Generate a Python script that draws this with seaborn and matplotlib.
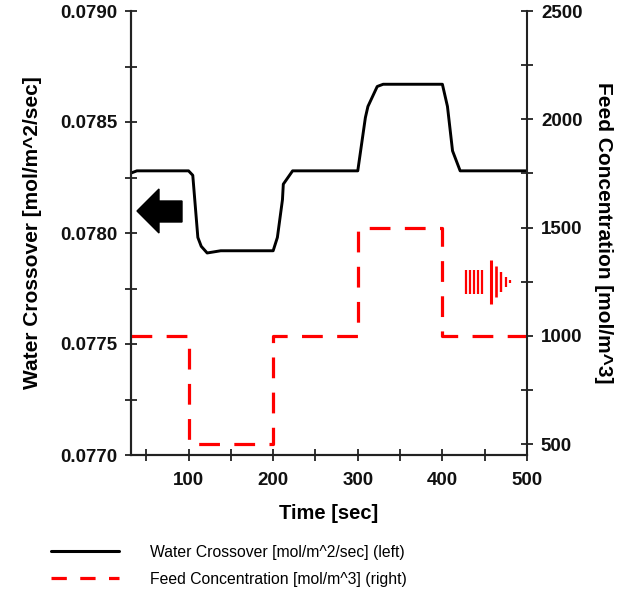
import numpy as np
import pandas as pd
import seaborn as sns
import matplotlib
matplotlib.use("Agg")
import matplotlib.pyplot as plt
from matplotlib.patches import Polygon
from matplotlib.lines import Line2D
from matplotlib.ticker import MultipleLocator, FormatStrFormatter

# ---- data ----
water_time = [32, 39, 100, 105, 111, 115, 122, 138, 200, 205, 211, 212, 223, 300,
              309, 312, 323, 330, 400, 406, 412, 421, 425, 500]
water_flux = [0.07827, 0.07828, 0.07828, 0.07826, 0.07798, 0.07794, 0.07791, 0.07792,
              0.07792, 0.07798, 0.07815, 0.07822, 0.07828, 0.07828,
              0.07852, 0.07857, 0.07866, 0.07867, 0.07867, 0.07857, 0.07837,
              0.07828, 0.07828, 0.07828]

feed_time = [32, 100, 200, 300, 400, 500]
feed_conc = [1000, 500, 1000, 1500, 1000, 1000]

x_ticks = [100, 200, 300, 400, 500]
left_label = "Water Crossover [mol/m^2/sec]"
right_label = "Feed Concentration [mol/m^3]"
x_label = "Time [sec]"
legend_labels = ["Water Crossover [mol/m^2/sec] (left)",
                 "Feed Concentration [mol/m^3] (right)"]

sns.set_theme(style="ticks")
plt.rcParams["font.family"] = ["Liberation Sans", "DejaVu Sans"]
plt.rcParams["text.color"] = "black"
plt.rcParams["axes.labelcolor"] = "black"
plt.rcParams["xtick.color"] = "black"
plt.rcParams["ytick.color"] = "black"

W, H = 639, 594
fig = plt.figure(figsize=(W / 100, H / 100), dpi=100)
ax = fig.add_axes([131 / W, 1 - 455 / H, (527 - 131) / W, (455 - 11) / H])
ax2 = ax.twinx()

df_w = pd.DataFrame({"t": water_time, "v": water_flux})
df_f = pd.DataFrame({"t": feed_time, "c": feed_conc})

sns.lineplot(data=df_w, x="t", y="v", ax=ax, color="black", linewidth=2.1,
             estimator=None, sort=False)
sns.lineplot(data=df_f, x="t", y="c", ax=ax2, color="#ff0000", linewidth=2.3,
             estimator=None, sort=False, drawstyle="steps-post",
             dashes=False)
for ln in ax2.get_lines():
    ln.set_linestyle((0, (6.5, 4.5)))

ax.set_xlim(32, 500)
ax.set_ylim(0.0770, 0.0790)
ax2.set_ylim(450, 2500)

ax.set_xticks(x_ticks)
ax.xaxis.set_minor_locator(MultipleLocator(50))
ax.yaxis.set_major_locator(MultipleLocator(0.0005))
ax.yaxis.set_minor_locator(MultipleLocator(0.00025))
ax.yaxis.set_major_formatter(FormatStrFormatter("%.4f"))
ax2.yaxis.set_major_locator(MultipleLocator(500))
ax2.yaxis.set_minor_locator(MultipleLocator(250))

for a in (ax, ax2):
    a.tick_params(axis="both", which="both", direction="inout", color="#222222",
                  labelcolor="#111111", width=1.3, labelsize=13.5, pad=4)
    a.tick_params(which="major", length=8)
    a.tick_params(which="minor", length=8)
    for lab in a.get_xticklabels() + a.get_yticklabels():
        lab.set_fontweight("bold")
    a.spines["top"].set_visible(False)
    for s in ("left", "right", "bottom"):
        a.spines[s].set_linewidth(1.5)
        a.spines[s].set_color("#222222")
ax.tick_params(axis="y", pad=6)
ax2.tick_params(axis="y", pad=6)
ax.tick_params(axis="x", pad=8)
ax.spines["right"].set_visible(False)

ax.set_xlabel(x_label, fontsize=14.5, fontweight="bold", labelpad=11)
ax.set_ylabel(left_label, fontsize=15, fontweight="bold", labelpad=13)
ax2.set_ylabel(right_label, fontsize=15, fontweight="bold", rotation=270,
               labelpad=22)

# decorative arrows (axes-fraction placement)
def fx(px):
    return (px - 131) / (527 - 131)

def fy(py):
    return 1 - (py - 11) / (455 - 11)

arrow = Polygon([(fx(137), fy(211)), (fx(159), fy(189)), (fx(159), fy(201)),
                 (fx(182), fy(201)), (fx(182), fy(222)), (fx(159), fy(222)),
                 (fx(159), fy(233))], closed=True, transform=ax.transAxes,
                facecolor="black", edgecolor="black", zorder=5)
ax.add_patch(arrow)

cy = 281.5
stripe_x = [466, 470, 474, 478, 482, 490.5, 496, 501, 505.5, 510]
stripe_h = [12, 12, 12, 12, 12, 22, 15.5, 10, 5, 1.6]
stripe_w = [1.6, 1.6, 1.6, 1.6, 1.6, 2.2, 1.9, 1.7, 1.6, 1.6]
for px, half, w in zip(stripe_x, stripe_h, stripe_w):
    ax.plot([fx(px), fx(px)], [fy(cy - half), fy(cy + half)],
            transform=ax.transAxes, color="#ff0000", linewidth=w,
            solid_capstyle="butt", zorder=5)

handles = [Line2D([], [], color="black", linewidth=2.2),
           Line2D([], [], color="#ff0000", linewidth=2.3,
                  linestyle=(0, (4.8, 4.2)))]
fig.legend(handles, legend_labels, loc="lower left",
           bbox_to_anchor=(45 / W, 1 / H), frameon=False, fontsize=11.3,
           handlelength=4.3, handletextpad=2.0, labelspacing=0.75,
           borderaxespad=0)

fig.savefig("out.png", dpi=100)
